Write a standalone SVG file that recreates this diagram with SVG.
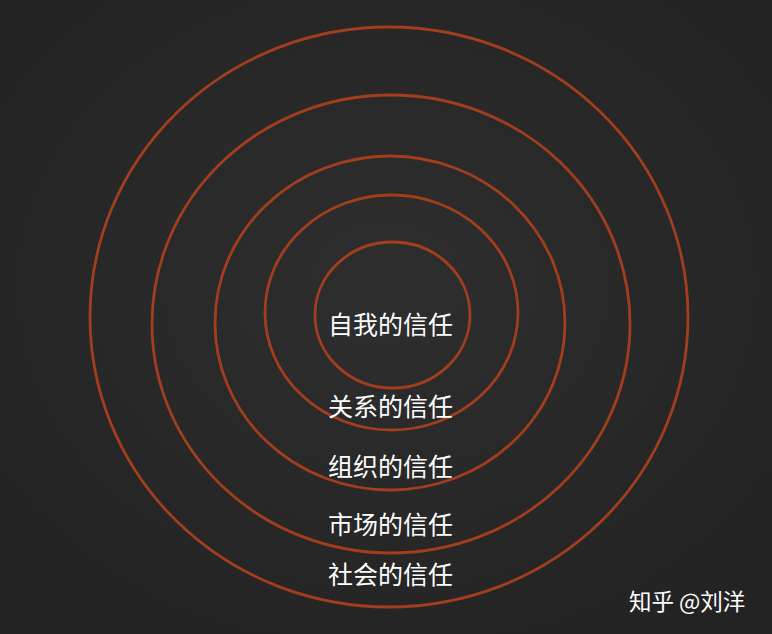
<svg xmlns="http://www.w3.org/2000/svg" width="772" height="634" viewBox="0 0 772 634">
<defs>
<radialGradient id="bg" cx="50%" cy="45%" r="70%">
<stop offset="0" stop-color="#2e2e2f"/>
<stop offset="1" stop-color="#222223"/>
</radialGradient>
<style>
.ring{fill:none;stroke:#a23e1e;stroke-width:2.8}
.lbl{fill:#ffffff;font-family:"Noto Sans CJK SC","Noto Sans",sans-serif;font-size:25px;text-anchor:middle}
.wm{fill:#ffffff;font-family:"Noto Sans CJK SC","Noto Sans",sans-serif;font-size:22.5px}
</style>
</defs>
<rect width="772" height="634" fill="url(#bg)"/>
<g id="ring-society">
<ellipse class="ring" cx="389" cy="317" rx="299" ry="290"/>
<text class="lbl" x="390.5" y="584">社会的信任</text>
</g>
<g id="ring-market">
<ellipse class="ring" cx="391" cy="324" rx="239" ry="229"/>
<text class="lbl" x="390.5" y="534">市场的信任</text>
</g>
<g id="ring-organization">
<ellipse class="ring" cx="390" cy="323" rx="175" ry="167"/>
<text class="lbl" x="390.5" y="476">组织的信任</text>
</g>
<g id="ring-relationship">
<ellipse class="ring" cx="391.5" cy="312.5" rx="126.5" ry="117.5"/>
<text class="lbl" x="390.5" y="416">关系的信任</text>
</g>
<g id="ring-self">
<ellipse class="ring" cx="392.5" cy="315" rx="77.5" ry="73"/>
<text class="lbl" x="390.5" y="334">自我的信任</text>
</g>
<g id="connectors"></g>
<text class="wm" x="629" y="610">知乎 @刘洋</text>
</svg>
